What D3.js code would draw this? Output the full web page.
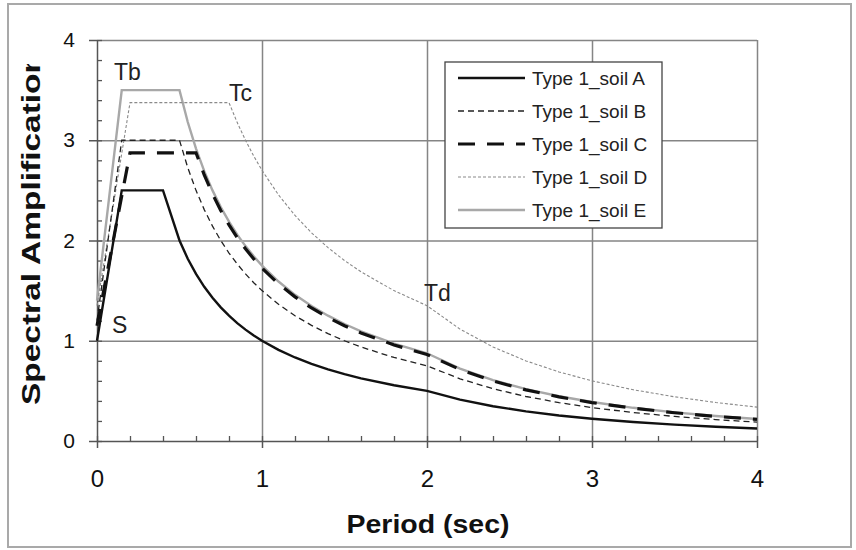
<!DOCTYPE html>
<html lang="en">
    <head>
        <meta charset="utf-8">
        <title>Spectral Amplification - Type 1</title>
        <style>
            body {
                margin: 0;
                background-color: white;
            }
            svg {
                display: block;
                font-family: "Liberation Sans", Arial, sans-serif;
            }
        </style>
        <script src="https://d3js.org/d3.v7.min.js"></script>
    </head>
    <body></body>
    <script>

        let width = 856
        let height = 550

        // plot area
        let plotLeft = 97
        let plotRight = 757
        let plotTop = 40
        let plotBottom = 441

        // period values (sec) shared by all soil types
        let periods = [0, 0.15, 0.2, 0.4, 0.5, 0.55, 0.6, 0.65, 0.7, 0.75, 0.8, 0.85, 0.9, 0.95, 1.0,
                       1.1, 1.2, 1.3, 1.4, 1.5, 1.6, 1.8, 2.0, 2.2, 2.4, 2.6, 2.8, 3.0, 3.25, 3.5, 3.75, 4.0]

        let soilA = [1.00, 2.50, 2.50, 2.50, 2.00, 1.818, 1.667, 1.538, 1.429, 1.333, 1.25, 1.176, 1.111, 1.053, 1.00,
                     0.909, 0.833, 0.769, 0.714, 0.667, 0.625, 0.556, 0.50, 0.413, 0.347, 0.296, 0.255, 0.222, 0.189, 0.163, 0.142, 0.125]
        let soilB = [1.20, 3.00, 3.00, 3.00, 3.00, 2.727, 2.50, 2.308, 2.143, 2.00, 1.875, 1.765, 1.667, 1.579, 1.50,
                     1.364, 1.25, 1.154, 1.071, 1.00, 0.938, 0.833, 0.75, 0.620, 0.521, 0.444, 0.383, 0.333, 0.284, 0.245, 0.213, 0.188]
        let soilC = [1.15, 2.444, 2.875, 2.875, 2.875, 2.875, 2.875, 2.654, 2.464, 2.30, 2.156, 2.029, 1.917, 1.816, 1.725,
                     1.568, 1.438, 1.327, 1.232, 1.15, 1.078, 0.958, 0.863, 0.713, 0.599, 0.510, 0.440, 0.383, 0.327, 0.282, 0.245, 0.216]
        let soilD = [1.35, 2.869, 3.375, 3.375, 3.375, 3.375, 3.375, 3.375, 3.375, 3.375, 3.375, 3.176, 3.00, 2.842, 2.70,
                     2.455, 2.25, 2.077, 1.929, 1.80, 1.688, 1.50, 1.35, 1.116, 0.938, 0.799, 0.689, 0.60, 0.511, 0.441, 0.384, 0.338]
        let soilE = [1.40, 3.50, 3.50, 3.50, 3.50, 3.182, 2.917, 2.692, 2.50, 2.333, 2.188, 2.059, 1.944, 1.842, 1.75,
                     1.591, 1.458, 1.346, 1.25, 1.167, 1.094, 0.972, 0.875, 0.723, 0.608, 0.518, 0.446, 0.389, 0.331, 0.286, 0.249, 0.219]

        let seriesNames = ["Type 1_soil A", "Type 1_soil B", "Type 1_soil C", "Type 1_soil D", "Type 1_soil E"]
        let seriesValues = [soilA, soilB, soilC, soilD, soilE]

        let majorTicks = [0, 1, 2, 3, 4]
        let minorTicks = d3.range(0, 4.01, 0.2)

        // line look for each series, same order as names
        let styles = [
            { color: "#111", width: 2.4, dash: null },
            { color: "#222", width: 1.3, dash: "6,4" },
            { color: "#111", width: 3.2, dash: "17,12" },
            { color: "#8a8a8a", width: 1.1, dash: "3,2" },
            { color: "#a8a8a8", width: 2.4, dash: null }
        ]

        // point labels on the chart
        let notes = [
            { text: "Tb", x: 114, y: 80 },
            { text: "Tc", x: 229, y: 101 },
            { text: "Td", x: 424, y: 301 },
            { text: "S", x: 112, y: 333 }
        ]

        let svg = d3.select("body")
            .append("svg")
            .attr("width", width)
            .attr("height", height)

        // outer frame
        svg.append("rect")
            .attr("x", 8)
            .attr("y", 4)
            .attr("width", 843)
            .attr("height", 543)
            .attr("fill", "none")
            .attr("stroke", "#a9a9a9")
            .attr("stroke-width", 2)

        let xScale = d3.scaleLinear().domain([0, 4]).range([plotLeft, plotRight])
        let yScale = d3.scaleLinear().domain([0, 4]).range([plotBottom, plotTop])

        // grid lines
        svg.append("g")
            .attr("transform", `translate(0, ${plotBottom})`)
            .call(d3.axisBottom(xScale).tickValues(majorTicks.slice(1)).tickSize(-(plotBottom - plotTop)).tickFormat(""))
            .call(g => g.select(".domain").remove())
            .call(g => g.selectAll("line").attr("stroke", "#858585").attr("stroke-width", 1.5))

        svg.append("g")
            .attr("transform", `translate(${plotLeft}, 0)`)
            .call(d3.axisLeft(yScale).tickValues(majorTicks.slice(1)).tickSize(-(plotRight - plotLeft)).tickFormat(""))
            .call(g => g.select(".domain").remove())
            .call(g => g.selectAll("line").attr("stroke", "#858585").attr("stroke-width", 1.5))

        // minor ticks, inside the plot
        svg.append("g")
            .attr("transform", `translate(0, ${plotBottom})`)
            .call(d3.axisBottom(xScale).tickValues(minorTicks).tickSize(-5).tickFormat(""))
            .call(g => g.select(".domain").remove())
            .call(g => g.selectAll("line").attr("stroke", "#555").attr("stroke-width", 1.3))

        svg.append("g")
            .attr("transform", `translate(${plotLeft}, 0)`)
            .call(d3.axisLeft(yScale).tickValues(minorTicks).tickSize(-5).tickFormat(""))
            .call(g => g.select(".domain").remove())
            .call(g => g.selectAll("line").attr("stroke", "#555").attr("stroke-width", 1.3))

        // main axes
        let xAxis = svg.append("g")
            .attr("transform", `translate(0, ${plotBottom})`)
            .call(d3.axisBottom(xScale).tickValues(majorTicks).tickFormat(d3.format("d"))
                .tickSizeInner(7).tickSizeOuter(0).tickPadding(22))

        let yAxis = svg.append("g")
            .attr("transform", `translate(${plotLeft}, 0)`)
            .call(d3.axisLeft(yScale).tickValues(majorTicks).tickFormat(d3.format("d"))
                .tickSizeInner(8).tickSizeOuter(0).tickPadding(14))

        xAxis.selectAll("text").attr("font-size", 24).attr("fill", "#111")
        yAxis.selectAll("text").attr("font-size", 21).attr("fill", "#111")
        svg.selectAll(".domain").attr("stroke", "#555").attr("stroke-width", 1.5)
        xAxis.selectAll(".tick line").attr("stroke", "#555").attr("stroke-width", 1.5)
        yAxis.selectAll(".tick line").attr("stroke", "#555").attr("stroke-width", 1.5)

        // series, drawn back to front
        let line = d3.line()
            .x((d) => xScale(d[0]))
            .y((d) => yScale(d[1]))

        let drawOrder = [4, 3, 1, 2, 0]
        drawOrder.forEach((i) => {
            let points = periods.map((t, j) => [t, seriesValues[i][j]])
            svg.append("path")
                .datum(points)
                .attr("d", line)
                .attr("fill", "none")
                .attr("stroke", styles[i].color)
                .attr("stroke-width", styles[i].width)
                .attr("stroke-dasharray", styles[i].dash)
                .attr("stroke-linejoin", "miter")
        })

        // point labels
        svg.selectAll(".note")
            .data(notes)
            .enter()
            .append("text")
            .attr("class", "note")
            .attr("x", (d) => d.x)
            .attr("y", (d) => d.y)
            .attr("font-size", 23)
            .attr("fill", "#222")
            .text((d) => d.text)

        // legend
        let legend = svg.append("g")
            .attr("id", "legend")
            .attr("transform", "translate(445, 62)")

        legend.append("rect")
            .attr("width", 217)
            .attr("height", 166)
            .attr("fill", "white")
            .attr("stroke", "#444")
            .attr("stroke-width", 1.3)

        let rowY = d3.scalePoint().domain(seriesNames).range([16, 148])

        seriesNames.forEach((name, i) => {
            legend.append("line")
                .attr("x1", 13)
                .attr("x2", 80)
                .attr("y1", rowY(name))
                .attr("y2", rowY(name))
                .attr("stroke", styles[i].color)
                .attr("stroke-width", styles[i].width)
                .attr("stroke-dasharray", styles[i].dash)
            legend.append("text")
                .attr("x", 87)
                .attr("y", rowY(name))
                .attr("dy", "0.36em")
                .attr("font-size", 19)
                .attr("fill", "#222")
                .text(name)
        })

        // axis titles
        svg.append("text")
            .attr("x", 428)
            .attr("y", 533)
            .attr("text-anchor", "middle")
            .attr("font-size", 25)
            .attr("font-weight", "bold")
            .attr("textLength", 163)
            .attr("lengthAdjust", "spacingAndGlyphs")
            .attr("fill", "#111")
            .text("Period (sec)")

        // the y title runs past the top of the chart box and is cut off there
        svg.append("clipPath")
            .attr("id", "ytitle-clip")
            .append("rect")
            .attr("x", 0)
            .attr("y", 64)
            .attr("width", 80)
            .attr("height", 400)

        svg.append("g")
            .attr("clip-path", "url(#ytitle-clip)")
            .append("text")
            .attr("transform", "translate(40, 405) rotate(-90)")
            .attr("font-size", 25)
            .attr("font-weight", "bold")
            .attr("textLength", 352)
            .attr("lengthAdjust", "spacingAndGlyphs")
            .attr("fill", "#111")
            .text("Spectral Amplification")

    </script>
</html>
